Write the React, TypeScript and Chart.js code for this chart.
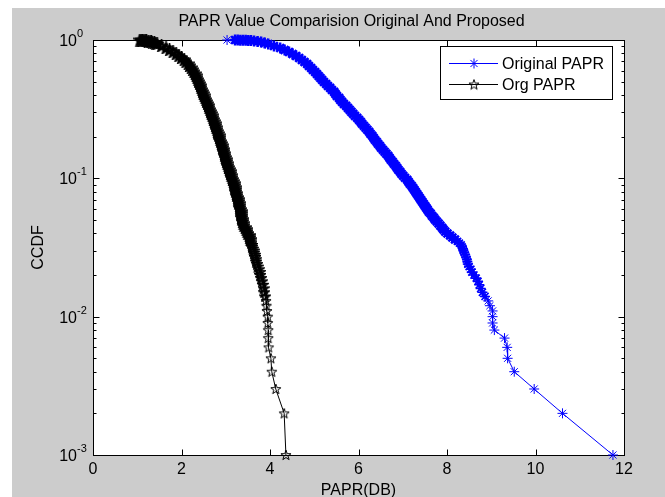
import React, { useEffect, useRef } from "react";
import { Chart, registerables } from "chart.js";
Chart.register(...registerables);

const titleText = "PAPR Value Comparision Original And Proposed";
const xAxisLabel = "PAPR(DB)";
const yAxisLabel = "CCDF";
const seriesNames = ["Original PAPR", "Org PAPR"];
const xTicks = [0, 2, 4, 6, 8, 10, 12];
const yTickValues = [1, 0.1, 0.01, 0.001];
const yTickExponents = ["0", "-1", "-2", "-3"];

const denseLevels = [
  0.936, 0.9055, 0.8759, 0.8473, 0.8196, 0.7928, 0.7669, 0.7418, 0.7176, 0.6941,
  0.6714, 0.6495, 0.6282, 0.6077, 0.5878, 0.5686, 0.55, 0.532, 0.5146, 0.4978,
  0.4815, 0.4658, 0.4506, 0.4358, 0.4216, 0.4078, 0.3945, 0.3816, 0.3691, 0.357,
  0.3453, 0.3341, 0.3231, 0.3126, 0.3023, 0.2925, 0.2829, 0.2736, 0.2647, 0.256,
  0.2477, 0.2396, 0.2317, 0.2242, 0.2168, 0.2097, 0.2029, 0.1963, 0.1898, 0.1836,
  0.1776, 0.1718, 0.1662, 0.1608, 0.1555, 0.1504, 0.1455, 0.1408, 0.1362, 0.1317,
  0.1274, 0.1233, 0.1192, 0.1153, 0.1116, 0.1079, 0.1044, 0.101, 0.0977, 0.0945,
  0.0914, 0.0884, 0.0855, 0.0828, 0.08, 0.0774, 0.0749, 0.0725, 0.0701, 0.0678,
  0.0656, 0.0634, 0.0614, 0.0594, 0.0574, 0.0556, 0.0537, 0.052, 0.0503, 0.0487,
  0.0471, 0.0455, 0.044, 0.0426, 0.0412, 0.0399, 0.0386, 0.0373, 0.0361,
];
// CCDF steps of the tail (k / 1000 samples)
const tailLevels = [
  0.035, 0.034, 0.033, 0.032, 0.031, 0.03, 0.029, 0.028, 0.027, 0.026,
  0.025, 0.024, 0.023, 0.022, 0.021, 0.02, 0.019, 0.018, 0.017, 0.016,
  0.015, 0.014, 0.013, 0.012, 0.011, 0.01, 0.009, 0.008, 0.007, 0.006,
  0.005, 0.004, 0.003, 0.002, 0.001,
];

// Original PAPR (blue asterisks)
const originalTopX = [3.03, 3.21, 3.27, 3.33, 3.39, 3.45, 3.51, 3.57, 3.64, 3.72, 3.8, 3.88];
const originalTopY = [1.0, 0.999, 0.998, 0.997, 0.996, 0.995, 0.993, 0.99, 0.985, 0.977, 0.967, 0.952];
const originalDenseX = [
  3.96, 4.09, 4.23, 4.33, 4.43, 4.51, 4.59, 4.66, 4.72, 4.78,
  4.84, 4.88, 4.93, 4.97, 5.02, 5.06, 5.1, 5.14, 5.18, 5.22,
  5.27, 5.31, 5.36, 5.4, 5.45, 5.48, 5.51, 5.56, 5.59, 5.63,
  5.67, 5.72, 5.76, 5.8, 5.84, 5.88, 5.92, 5.97, 6.01, 6.05,
  6.08, 6.12, 6.16, 6.2, 6.24, 6.27, 6.31, 6.34, 6.37, 6.41,
  6.44, 6.48, 6.51, 6.55, 6.59, 6.63, 6.67, 6.7, 6.73, 6.77,
  6.8, 6.84, 6.87, 6.9, 6.94, 6.97, 7.01, 7.05, 7.1, 7.13,
  7.16, 7.2, 7.23, 7.26, 7.29, 7.32, 7.35, 7.38, 7.41, 7.44,
  7.47, 7.5, 7.53, 7.56, 7.59, 7.63, 7.66, 7.7, 7.73, 7.77,
  7.81, 7.85, 7.89, 7.92, 7.96, 8.01, 8.07, 8.12, 8.18,
];
const originalTailX = [
  8.24, 8.28, 8.32, 8.34, 8.36, 8.37, 8.39, 8.41, 8.43, 8.45,
  8.46, 8.47, 8.5, 8.54, 8.56, 8.61, 8.66, 8.7, 8.73, 8.76,
  8.8, 8.86, 8.93, 8.97, 9.03, 9.03, 9.03, 9.07, 9.3, 9.36,
  9.37, 9.52, 9.97, 10.61, 11.75,
];

// Org PAPR (black pentagrams)
const orgTopX = [1.06, 1.09, 1.12, 1.15, 1.18, 1.21, 1.25, 1.29, 1.32, 1.35, 1.39, 1.42];
const orgTopY = [1.0, 0.998, 0.995, 0.993, 0.99, 0.986, 0.98, 0.975, 0.97, 0.963, 0.955, 0.946];
const orgDenseX = [
  1.45, 1.55, 1.65, 1.73, 1.81, 1.88, 1.94, 2.0, 2.06, 2.1,
  2.15, 2.18, 2.22, 2.25, 2.28, 2.31, 2.33, 2.35, 2.37, 2.39,
  2.41, 2.43, 2.44, 2.46, 2.48, 2.49, 2.51, 2.53, 2.55, 2.57,
  2.59, 2.61, 2.62, 2.64, 2.66, 2.67, 2.69, 2.71, 2.72, 2.74,
  2.76, 2.77, 2.78, 2.8, 2.81, 2.83, 2.85, 2.86, 2.87, 2.89,
  2.9, 2.92, 2.93, 2.95, 2.96, 2.97, 2.98, 2.99, 3.01, 3.02,
  3.03, 3.05, 3.06, 3.08, 3.1, 3.11, 3.12, 3.14, 3.15, 3.17,
  3.19, 3.2, 3.21, 3.22, 3.23, 3.24, 3.25, 3.27, 3.28, 3.29,
  3.3, 3.31, 3.32, 3.33, 3.35, 3.35, 3.36, 3.36, 3.37, 3.38,
  3.39, 3.41, 3.44, 3.46, 3.48, 3.5, 3.53, 3.54, 3.55,
];
const orgTailX = [
  3.56, 3.58, 3.59, 3.6, 3.61, 3.63, 3.64, 3.66, 3.67, 3.68,
  3.69, 3.71, 3.72, 3.75, 3.77, 3.78, 3.8, 3.82, 3.84, 3.86,
  3.87, 3.89, 3.91, 3.92, 3.93, 3.95, 3.95, 3.96, 3.96, 3.97,
  4.02, 4.04, 4.13, 4.32, 4.36,
];

const FONT = '"Liberation Sans", Arial, sans-serif';
const FIG_BG = "#cccccc";
const GRAY_X = 12;
const GRAY_Y = 8;
const BLUE = "#0000ff";

function makePentagram(size: number, color: string, lw: number): HTMLCanvasElement {
  const c = document.createElement("canvas");
  c.width = size;
  c.height = size;
  const ctx = c.getContext("2d")!;
  const cx = size / 2;
  const cy = size / 2 + 0.4;
  const R = size / 2 - lw / 2 - 0.2;
  const r = R * 0.4;
  ctx.beginPath();
  for (let i = 0; i < 10; i++) {
    const ang = -Math.PI / 2 + (i * Math.PI) / 5;
    const rad = i % 2 === 0 ? R : r;
    const px = cx + rad * Math.cos(ang);
    const py = cy + rad * Math.sin(ang);
    if (i === 0) ctx.moveTo(px, py);
    else ctx.lineTo(px, py);
  }
  ctx.closePath();
  ctx.strokeStyle = color;
  ctx.lineWidth = lw;
  ctx.lineJoin = "miter";
  ctx.stroke();
  return c;
}

function drawAsterisk(ctx: CanvasRenderingContext2D, x: number, y: number, r: number, color: string) {
  ctx.save();
  ctx.strokeStyle = color;
  ctx.lineWidth = 1;
  ctx.beginPath();
  for (let k = 0; k < 4; k++) {
    const a = (k * Math.PI) / 4;
    ctx.moveTo(x - r * Math.cos(a), y - r * Math.sin(a));
    ctx.lineTo(x + r * Math.cos(a), y + r * Math.sin(a));
  }
  ctx.stroke();
  ctx.restore();
}

function toPoints(xs: number[], ys: number[]) {
  return xs.map((x, i) => ({ x, y: ys[i] }));
}

export default function App() {
  const ref = useRef<HTMLCanvasElement>(null);

  useEffect(() => {
    const canvas = ref.current!;
    const pentThin = makePentagram(12, "#000000", 1);
    const pentMid = makePentagram(12, "#000000", 1.6);
    const pentBold = makePentagram(13, "#000000", 2.4);

    const originalX = [...originalTopX, ...originalDenseX, ...originalTailX];
    const originalY = [...originalTopY, ...denseLevels, ...tailLevels];
    const orgX = [...orgTopX, ...orgDenseX, ...orgTailX];
    const orgY = [...orgTopY, ...denseLevels, ...tailLevels];
    const denseEndBlue = originalTopX.length + originalDenseX.length;
    const denseEndBlack = orgTopX.length + orgDenseX.length;
    const midEnd = 22; // tail steps down to 0.013 still overlap heavily

    const framePlugin = {
      id: "matlabFrame",
      beforeDraw(chart: any) {
        const { ctx, chartArea: a } = chart;
        ctx.save();
        ctx.fillStyle = "#ffffff";
        ctx.fillRect(0, 0, chart.width, chart.height);
        ctx.fillStyle = FIG_BG;
        ctx.fillRect(GRAY_X, GRAY_Y, chart.width - GRAY_X, chart.height - GRAY_Y);
        ctx.fillStyle = "#ffffff";
        ctx.fillRect(a.left, a.top, a.right - a.left, a.bottom - a.top);
        ctx.restore();
      },
      beforeDatasetsDraw(chart: any) {
        const { ctx, chartArea: a, scales } = chart;
        const xs = scales.x;
        const ys = scales.y;
        const L = Math.round(a.left) + 0.5;
        const R = Math.round(a.right) + 0.5;
        const T = Math.round(a.top) + 0.5;
        const B = Math.round(a.bottom) + 0.5;
        ctx.save();
        ctx.strokeStyle = "#000000";
        ctx.lineWidth = 1;
        ctx.strokeRect(L, T, R - L, B - T);
        ctx.beginPath();
        xTicks.forEach((t) => {
          const px = Math.round(xs.getPixelForValue(t)) + 0.5;
          ctx.moveTo(px, B);
          ctx.lineTo(px, B - 6);
          ctx.moveTo(px, T);
          ctx.lineTo(px, T + 6);
        });
        yTickValues.forEach((v) => {
          const py = Math.round(ys.getPixelForValue(v)) + 0.5;
          ctx.moveTo(L, py);
          ctx.lineTo(L + 6, py);
          ctx.moveTo(R, py);
          ctx.lineTo(R - 6, py);
        });
        yTickValues.slice(1).forEach((d) => {
          for (let m = 2; m <= 9; m++) {
            const py = Math.round(ys.getPixelForValue(d * m)) + 0.5;
            ctx.moveTo(L, py);
            ctx.lineTo(L + 3, py);
            ctx.moveTo(R, py);
            ctx.lineTo(R - 3, py);
          }
        });
        ctx.stroke();

        ctx.fillStyle = "#000000";
        ctx.font = `16px ${FONT}`;
        ctx.textAlign = "center";
        ctx.textBaseline = "alphabetic";
        xTicks.forEach((t) => {
          const px = xs.getPixelForValue(t);
          ctx.fillText(String(t), px, a.bottom + 19);
        });
        yTickValues.forEach((v, i) => {
          const py = ys.getPixelForValue(v);
          ctx.font = `16px ${FONT}`;
          ctx.textAlign = "right";
          ctx.fillText("10", 77, py + 6);
          ctx.font = `11px ${FONT}`;
          ctx.textAlign = "left";
          ctx.fillText(yTickExponents[i], 77, py - 3);
        });
        ctx.font = `16px ${FONT}`;
        ctx.textAlign = "center";
        ctx.fillText(xAxisLabel, (a.left + a.right) / 2, a.bottom + 40);
        ctx.fillText(titleText, (a.left + a.right) / 2 - 7, 26);
        ctx.save();
        ctx.translate(43, (a.top + a.bottom) / 2);
        ctx.rotate(-Math.PI / 2);
        ctx.fillText(yAxisLabel, 0, 0);
        ctx.restore();
        ctx.restore();
      },
      afterDraw(chart: any) {
        const { ctx } = chart;
        const ds = chart.data.datasets;
        ctx.save();
        ctx.fillStyle = "#ffffff";
        ctx.fillRect(440.5, 46.5, 172, 53);
        ctx.strokeStyle = "#000000";
        ctx.lineWidth = 1;
        ctx.strokeRect(440.5, 46.5, 172, 53);
        const rows = [63, 84];
        rows.forEach((ry, i) => {
          const color = i === 0 ? BLUE : "#000000";
          ctx.strokeStyle = color;
          ctx.beginPath();
          ctx.moveTo(449, ry + 0.5);
          ctx.lineTo(498, ry + 0.5);
          ctx.stroke();
          if (i === 0) drawAsterisk(ctx, 474, ry + 0.5, 5, BLUE);
          else ctx.drawImage(pentThin, 474 - 6, ry + 0.5 - 6);
          ctx.fillStyle = "#000000";
          ctx.font = `16px ${FONT}`;
          ctx.textAlign = "left";
          ctx.textBaseline = "alphabetic";
          ctx.fillText(ds[i].label, 502, ry + 6);
        });
        ctx.restore();
      },
    };

    const blueWidth = (c: any) => {
      const i = c.dataIndex;
      if (i > 0 && i < denseEndBlue) return 2.5;
      if (i >= denseEndBlue && i < denseEndBlue + midEnd) return 1.6;
      return 1;
    };

    const chart = new Chart(canvas, {
      type: "scatter",
      data: {
        datasets: [
          {
            label: seriesNames[0],
            data: toPoints(originalX, originalY),
            showLine: true,
            borderColor: BLUE,
            borderWidth: 1,
            pointStyle: "star",
            pointRadius: (c: any) => (c.dataIndex > 0 && c.dataIndex < denseEndBlue ? 5.5 : 5),
            pointBorderColor: BLUE,
            pointBackgroundColor: BLUE,
            pointBorderWidth: blueWidth,
            clip: false,
          } as any,
          {
            label: seriesNames[1],
            data: toPoints(orgX, orgY),
            showLine: true,
            borderColor: "#000000",
            borderWidth: 1,
            pointStyle: (c: any) =>
              c.dataIndex < denseEndBlack
                ? pentBold
                : c.dataIndex < denseEndBlack + midEnd
                ? pentMid
                : pentThin,
            pointRadius: 6,
            pointBorderColor: "#000000",
            clip: false,
          } as any,
        ],
      },
      options: {
        responsive: false,
        animation: false,
        events: [],
        layout: { autoPadding: false, padding: { left: 0, top: 40, right: 41, bottom: 0 } },
        plugins: {
          legend: { display: false },
          title: { display: false },
          tooltip: { enabled: false },
        },
        scales: {
          x: {
            type: "linear",
            min: 0,
            max: 12,
            ticks: { display: false },
            grid: { display: false },
            border: { display: false },
            afterFit: (s: any) => {
              s.height = 42;
            },
          },
          y: {
            type: "logarithmic",
            min: 0.001,
            max: 1,
            ticks: { display: false },
            grid: { display: false },
            border: { display: false },
            afterFit: (s: any) => {
              s.width = 93;
            },
          },
        },
      } as any,
      plugins: [framePlugin],
    });

    return () => chart.destroy();
  }, []);

  return (
    <canvas
      ref={ref}
      width={665}
      height={497}
      style={{ position: "fixed", left: 0, top: 0, width: 665, height: 497 }}
    />
  );
}
